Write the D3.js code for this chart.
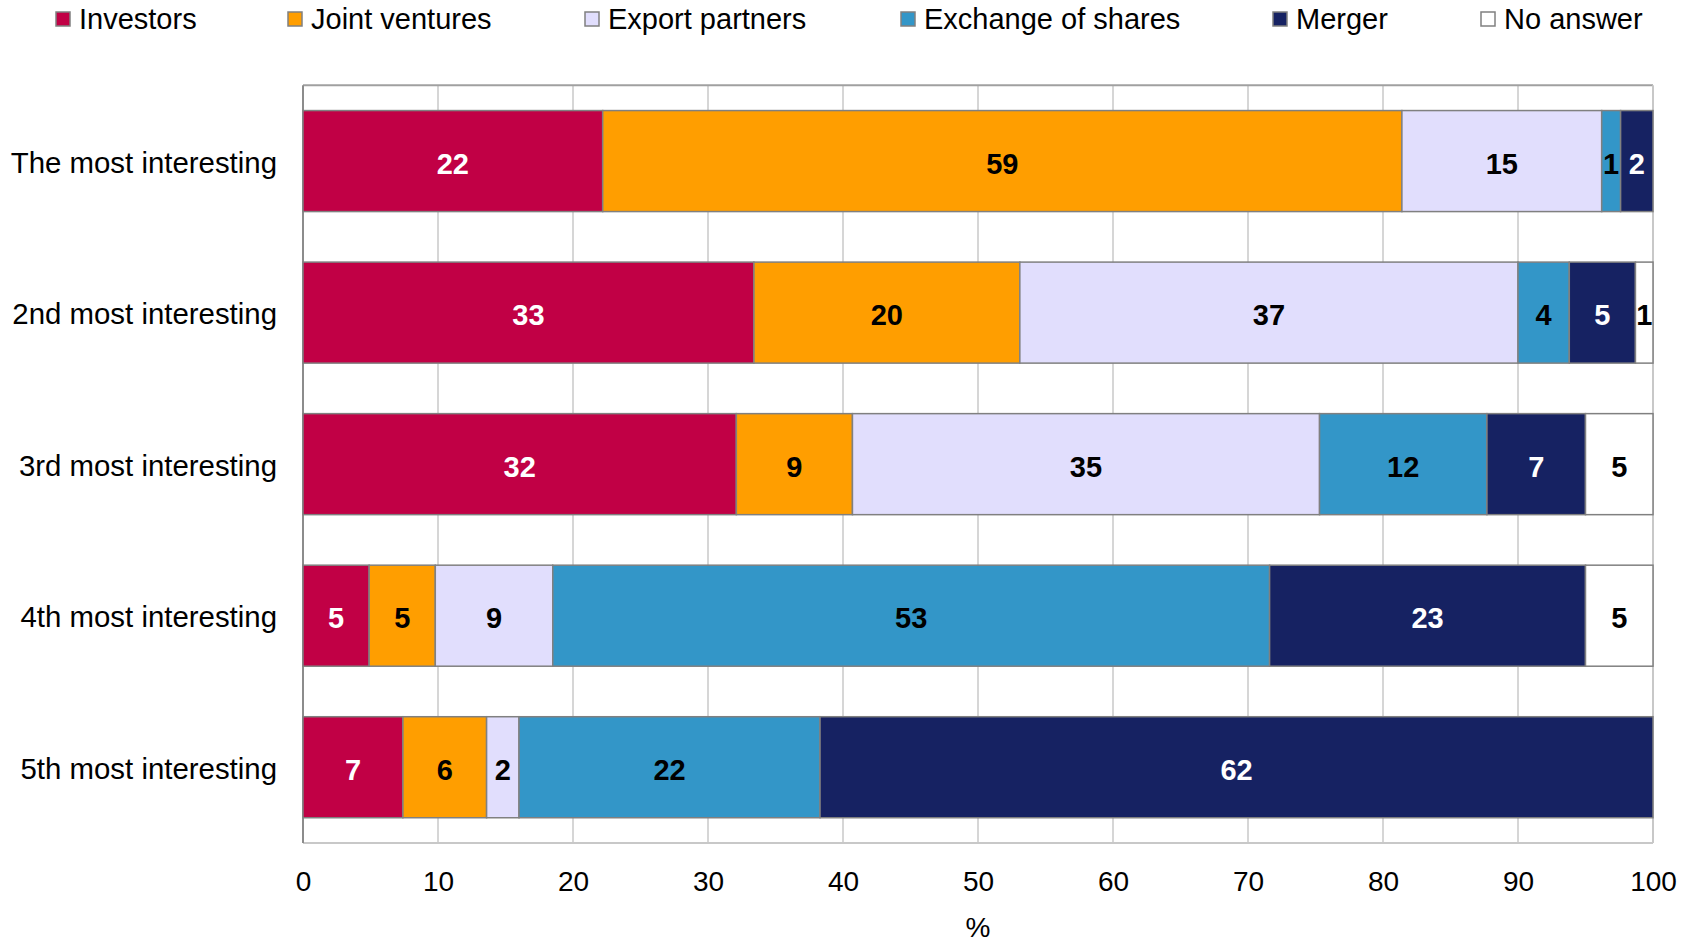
<!DOCTYPE html>
<html>
<head>
<meta charset="utf-8">
<script src="https://cdn.jsdelivr.net/npm/d3@7"></script>
<style>
  html, body { margin: 0; padding: 0; background: #fff; }
  svg { display: block; font-family: "Liberation Sans", Arial, sans-serif; }
</style>
</head>
<body>
<svg id="chart" width="1696" height="943"></svg>
<script>
// Survey ranking of cooperation forms (% of respondents per rank)
const categories = [
  "The most interesting",
  "2nd most interesting",
  "3rd most interesting",
  "4th most interesting",
  "5th most interesting"
];
const seriesNames = ["Investors", "Joint ventures", "Export partners", "Exchange of shares", "Merger", "No answer"];

const investors      = [22.2, 33.4, 32.1,  4.9,  7.4];
const jointVentures  = [59.2, 19.7,  8.6,  4.9,  6.2];
const exportPartners = [14.8, 36.9, 34.6,  8.7,  2.4];
const exchangeShares = [ 1.4,  3.8, 12.4, 53.1, 22.3];
const merger         = [ 2.4,  4.9,  7.3, 23.4, 61.7];
const noAnswer       = [ 0.0,  1.3,  5.0,  5.0,  0.0];

const xTicks = [0, 10, 20, 30, 40, 50, 60, 70, 80, 90, 100];

const seriesValues = [investors, jointVentures, exportPartners, exchangeShares, merger, noAnswer];
const colors = ["#C10045", "#FF9E00", "#E1DEFD", "#3396C8", "#162262", "#FFFFFF"];
const labelColors = ["#fff", "#000", "#000", "#000", "#fff", "#000"];

const rows = categories.map((c, i) => {
  const r = { category: c };
  seriesNames.forEach((s, k) => { r[s] = seriesValues[k][i]; });
  return r;
});

const svg = d3.select("#chart");
const plotLeft = 303, plotRight = 1653, plotTop = 85.3, plotBottom = 843;

const x = d3.scaleLinear().domain([0, 100]).range([plotLeft, plotRight]);
const y = d3.scaleBand().domain(categories).range([plotTop, plotBottom])
  .paddingInner(1 / 3).paddingOuter(1 / 6);

const stacked = d3.stack().keys(seriesNames)(rows);

// vertical gridlines
svg.append("g").selectAll("line")
  .data(xTicks.slice(1, -1))
  .join("line")
  .attr("x1", d => x(d)).attr("x2", d => x(d))
  .attr("y1", plotTop).attr("y2", plotBottom)
  .attr("stroke", "#c8c8c8").attr("stroke-width", 1.5);

// plot frame
const frame = svg.append("g").attr("fill", "none");
frame.append("line").attr("x1", plotLeft).attr("x2", plotRight).attr("y1", plotTop).attr("y2", plotTop)
  .attr("stroke", "#a0a0a0").attr("stroke-width", 2);
frame.append("line").attr("x1", plotRight).attr("x2", plotRight).attr("y1", plotTop).attr("y2", plotBottom)
  .attr("stroke", "#c8c8c8").attr("stroke-width", 2);
frame.append("line").attr("x1", plotLeft).attr("x2", plotRight).attr("y1", plotBottom).attr("y2", plotBottom)
  .attr("stroke", "#c8c8c8").attr("stroke-width", 2);
frame.append("line").attr("x1", plotLeft).attr("x2", plotLeft).attr("y1", plotTop).attr("y2", plotBottom)
  .attr("stroke", "#8c8c8c").attr("stroke-width", 2);

// stacked bars
const layers = svg.append("g").selectAll("g")
  .data(stacked)
  .join("g")
  .attr("fill", (d, i) => colors[i]);

layers.selectAll("rect")
  .data(d => d.filter(p => p[1] - p[0] > 0).map(p => ({ p, cat: p.data.category })))
  .join("rect")
  .attr("x", d => x(d.p[0]))
  .attr("y", d => y(d.cat))
  .attr("width", d => x(d.p[1]) - x(d.p[0]))
  .attr("height", y.bandwidth())
  .attr("stroke", "#808080")
  .attr("stroke-width", 1.5);

// value labels
const fmt = d3.format(".0f");
svg.append("g").selectAll("g")
  .data(stacked)
  .join("g")
  .attr("fill", (d, i) => labelColors[i])
  .selectAll("text")
  .data(d => d.filter(p => p[1] - p[0] > 0).map(p => ({ p, cat: p.data.category })))
  .join("text")
  .attr("x", d => x((d.p[0] + d.p[1]) / 2))
  .attr("y", d => y(d.cat) + y.bandwidth() / 2 + 12.5)
  .attr("text-anchor", "middle")
  .attr("font-size", 29)
  .attr("font-weight", "bold")
  .text(d => fmt(d.p[1] - d.p[0]));

// category axis labels
svg.append("g").selectAll("text")
  .data(categories)
  .join("text")
  .attr("x", 277)
  .attr("y", d => y(d) + y.bandwidth() / 2 + 11.5)
  .attr("text-anchor", "end")
  .attr("font-size", 29.4)
  .attr("fill", "#000")
  .text(d => d);

// x axis
const xAxis = d3.axisBottom(x).tickValues(xTicks).tickSize(0).tickPadding(0);
const gx = svg.append("g").attr("transform", `translate(0,${plotBottom})`).call(xAxis);
gx.select(".domain").remove();
gx.selectAll("text")
  .attr("dy", null)
  .attr("y", 48)
  .attr("font-size", 28)
  .attr("font-family", "'Liberation Sans', Arial, sans-serif")
  .attr("fill", "#000");

svg.append("text")
  .attr("x", (plotLeft + plotRight) / 2)
  .attr("y", 937)
  .attr("text-anchor", "middle")
  .attr("font-size", 28)
  .text("%");

// legend
const legendX = [56, 288, 585, 901, 1273, 1481];
const legend = svg.append("g").selectAll("g")
  .data(seriesNames)
  .join("g")
  .attr("transform", (d, i) => `translate(${legendX[i]},0)`);
legend.append("rect")
  .attr("x", 0).attr("y", 12)
  .attr("width", 14).attr("height", 14)
  .attr("fill", (d, i) => colors[i])
  .attr("stroke", "#808080").attr("stroke-width", 1.5);
legend.append("text")
  .attr("x", 23).attr("y", 28.5)
  .attr("font-size", 29)
  .attr("fill", "#000")
  .text(d => d);
</script>
</body>
</html>
